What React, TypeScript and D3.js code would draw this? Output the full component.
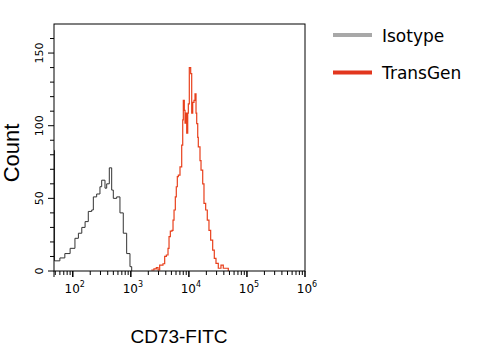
import React from "react";
import * as d3 from "d3";

const isoX = [47.6, 48.5, 60, 73, 90, 109, 125, 143, 163, 185, 212, 226, 258, 294, 315, 359, 384, 426, 468, 499, 571, 650, 741, 848, 967, 1035];
const isoY = [83, 7, 9, 12, 15.6, 22.5, 26, 30, 34, 41, 42, 51, 53, 58, 62.5, 57, 60, 71, 55.7, 50, 51, 40, 26, 12, 3, 0];

const tgX = [2250, 2500, 2750, 2940, 3140, 3580, 3830, 4090, 4370, 4550, 4790, 5120, 5330, 5550, 5840, 6070, 6320, 6580, 7030, 7520, 7830, 8020, 8340, 8580, 8930, 9170, 9550, 9780, 10170, 10740, 11180, 11640, 12250, 12750, 13270, 13640, 14200, 14530, 15540, 16180, 17300, 18200, 19460, 20750, 22180, 23720, 25700, 27400, 29300, 32100, 35700, 39150, 43550, 47750];
const tgY = [0.7, 1.4, 2.3, 0.7, 4, 5, 10, 11, 15.6, 23.6, 27.5, 28, 35, 42, 51, 58, 65, 66, 71.7, 86.6, 104, 117.5, 110.6, 101.7, 108.6, 94.8, 108.6, 115, 140, 135.8, 108.6, 116, 117.5, 122, 108.6, 101.5, 92, 85.4, 76, 69.4, 60, 46.5, 42, 35, 28, 21.3, 14.4, 8.7, 5.3, 1.9, 4, 1.9, 1.9, 0];

const xDecades = [2, 3, 4, 5, 6];
const yMajor = [0, 50, 100, 150];
const yMinor = [10, 20, 30, 40, 60, 70, 80, 90, 110, 120, 130, 140, 160];
const legendItems = ["Isotype", "TransGen"];
const legendColors = ["#a8a8a8", "#e2361e"];

export default function App() {
  const L = 54, R = 305, T = 24, B = 271;
  const x = d3.scaleLog().domain([47.5, 1e6]).range([L, R]);
  const y = d3.scaleLinear().domain([0, 170]).range([B, T]);

  const line = d3.line<[number, number]>()
    .x((d) => x(d[0]))
    .y((d) => y(d[1]))
    .curve(d3.curveStepAfter);

  const isoPath = line(isoX.map((v, i) => [v, isoY[i]] as [number, number])) || "";
  const tgPath = line(tgX.map((v, i) => [v, tgY[i]] as [number, number])) || "";

  const minorX: number[] = [];
  for (let k = 1; k <= 5; k++) {
    for (let m = 2; m <= 9; m++) {
      const v = m * Math.pow(10, k);
      if (v >= 47.5 && v <= 1e6) minorX.push(v);
    }
  }

  return (
    <svg width={493} height={357} style={{ position: "absolute", left: 0, top: 0, background: "#fff" }}>
      <rect x={0} y={0} width={493} height={357} fill="#fff" />
      {/* histograms */}
      <path d={isoPath} fill="none" stroke="#333" strokeWidth={1} />
      <path d={tgPath} fill="none" stroke="#e8401c" strokeWidth={1.2} />
      {/* frame */}
      <rect x={L} y={T} width={R - L} height={B - T} fill="none" stroke="#000" strokeWidth={1} />
      {/* x ticks */}
      <line x1={L} x2={L} y1={B} y2={B + 6} stroke="#000" />
      {minorX.map((v) => (
        <line key={"mx" + v} x1={x(v)} x2={x(v)} y1={B} y2={B + 4} stroke="#000" />
      ))}
      {xDecades.map((k) => (
        <g key={"xd" + k}>
          <line x1={x(Math.pow(10, k))} x2={x(Math.pow(10, k))} y1={B} y2={B + 6} stroke="#000" strokeWidth={1.5} />
          <text x={x(Math.pow(10, k)) + 2} y={293} textAnchor="middle" fontFamily="DejaVu Sans" fontSize={12} fill="#000">
            10<tspan fontSize={8} dy={-6}>{k}</tspan>
          </text>
        </g>
      ))}
      {/* y ticks */}
      {yMinor.map((v) => (
        <line key={"my" + v} x1={L - 4} x2={L} y1={y(v)} y2={y(v)} stroke="#000" />
      ))}
      {yMajor.map((v) => (
        <g key={"yM" + v}>
          <line x1={L - 6} x2={L} y1={y(v)} y2={y(v)} stroke="#000" />
          <text transform={`translate(43,${y(v)}) rotate(-90)`} textAnchor="middle" fontFamily="DejaVu Sans" fontSize={11} fill="#000">
            {v}
          </text>
        </g>
      ))}
      {/* axis titles */}
      <text transform="translate(19,153) rotate(-90)" textAnchor="middle" fontFamily="Liberation Sans" fontSize={22} fill="#000">
        Count
      </text>
      <text x={179} y={343} textAnchor="middle" fontFamily="Liberation Sans" fontSize={19} fill="#000">
        CD73-FITC
      </text>
      {/* legend */}
      {legendItems.map((name, i) => (
        <g key={name}>
          <line x1={333} x2={372} y1={35 + i * 37.5} y2={35 + i * 37.5} stroke={legendColors[i]} strokeWidth={4} />
          <text x={382} y={42 + i * 37} fontFamily="DejaVu Sans" fontSize={17} fill="#000">
            {name}
          </text>
        </g>
      ))}
    </svg>
  );
}
